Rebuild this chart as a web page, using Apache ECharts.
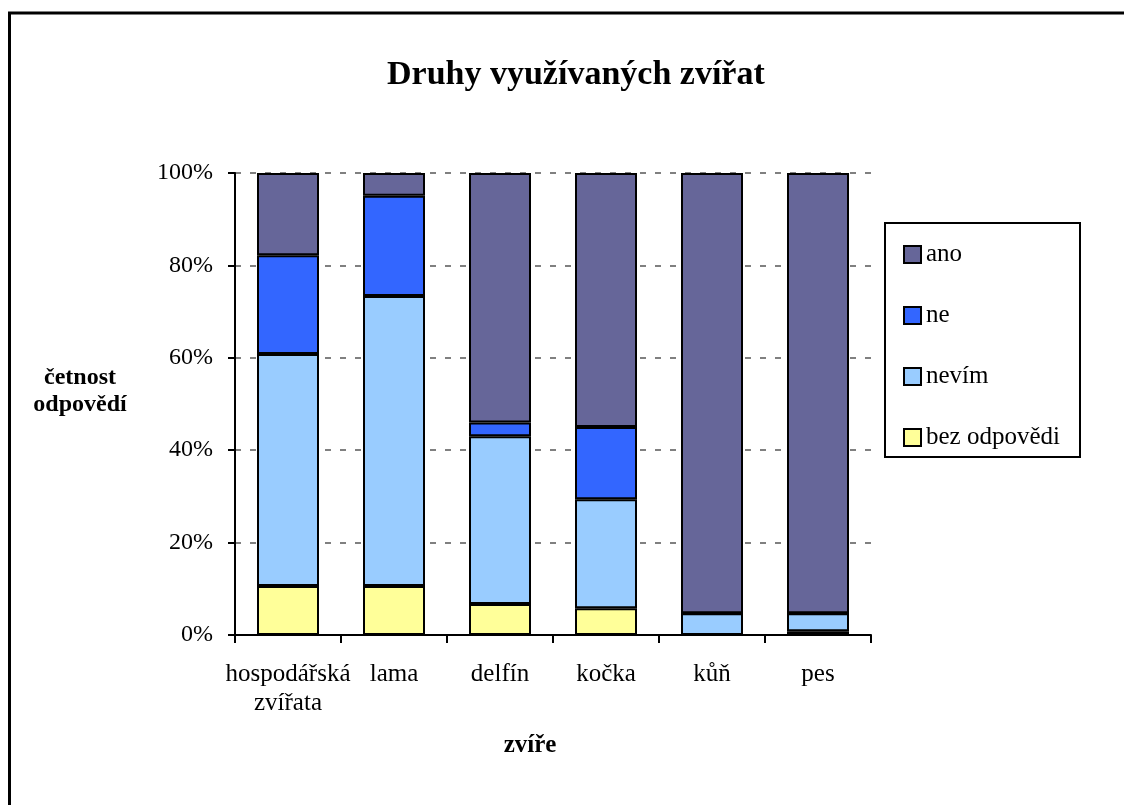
<!DOCTYPE html>
<html>
<head>
<meta charset="utf-8">
<script src="https://cdn.jsdelivr.net/npm/echarts@6/dist/echarts.min.js"></script>
<style>
html,body{margin:0;padding:0;background:#fff;}
#chart{width:1124px;height:805px;}
</style>
</head>
<body>
<div id="chart"></div>
<script>
const categories = ['hospodářská zvířata', 'lama', 'delfín', 'kočka', 'kůň', 'pes'];
const bezOdpovedi = [10.6, 10.6, 6.7, 5.8, 0, 0.8];
const nevim = [50.2, 62.8, 36.3, 23.6, 4.7, 3.9];
const ne = [21.4, 21.7, 3.0, 15.6, 0, 0];
const ano = [17.8, 4.9, 54.0, 55.0, 95.3, 95.3];
const yTicks = [0, 20, 40, 60, 80, 100];

const FONT = "'Liberation Serif', 'Times New Roman', serif";
const chart = echarts.init(document.getElementById('chart'), null, {renderer: 'canvas'});

function mk(name, data, color) {
  return {
    name: name, type: 'bar', stack: 'total', data: data,
    barWidth: 62,
    itemStyle: {color: color, borderColor: '#000', borderWidth: 2},
    emphasis: {disabled: true}
  };
}

chart.setOption({
  animation: false,
  backgroundColor: '#fff',
  title: {
    text: 'Druhy využívaných zvířat',
    left: 382, top: 53,
    textStyle: {fontFamily: FONT, fontSize: 34, fontWeight: 'bold', color: '#000'}
  },
  legend: {
    orient: 'vertical', left: 903, top: 242, padding: 0,
    icon: 'rect',
    itemWidth: 17, itemHeight: 17, itemGap: 36,
    data: ['ano', 'ne', 'nevím', 'bez odpovědi'],
    textStyle: {fontFamily: FONT, fontSize: 25, lineHeight: 24, color: '#000'}
  },
  grid: {left: 235, right: 253, top: 173, bottom: 170, containLabel: false},
  xAxis: {
    type: 'category', data: categories,
    axisLine: {lineStyle: {color: '#000', width: 2}},
    axisTick: {show: true, length: 8, lineStyle: {color: '#000', width: 2}},
    axisLabel: {
      fontFamily: FONT, fontSize: 25, lineHeight: 29, color: '#000', margin: 25,
      interval: 0,
      formatter: v => v.replace(' ', '\n')
    }
  },
  yAxis: {
    type: 'value', min: 0, max: 100, interval: 20,
    axisLine: {show: true, lineStyle: {color: '#000', width: 2}},
    axisTick: {show: true, length: 7, lineStyle: {color: '#000', width: 2}},
    axisLabel: {
      fontFamily: FONT, fontSize: 24, color: '#000', margin: 22,
      formatter: v => yTicks.includes(v) ? v + '%' : ''
    },
    splitLine: {show: true, lineStyle: {color: '#808080', width: 2, type: [6, 9]}}
  },
  series: [
    mk('bez odpovědi', bezOdpovedi, '#FFFF99'),
    mk('nevím', nevim, '#99CCFF'),
    mk('ne', ne, '#3366FF'),
    mk('ano', ano, '#666699')
  ],
  graphic: [
    {type: 'rect', shape: {x: 9.5, y: 13, width: 1300, height: 1000},
     style: {fill: 'none', stroke: '#000', lineWidth: 3}, silent: true, z: 100},
    {type: 'rect', shape: {x: 885, y: 223, width: 195, height: 234},
     style: {fill: 'none', stroke: '#000', lineWidth: 2}, silent: true, z: 100},
    {type: 'text', x: 80, y: 391,
     style: {text: 'četnost\nodpovědí', font: "bold 24px " + FONT, fill: '#000',
             align: 'center', verticalAlign: 'middle', lineHeight: 27}, z: 100},
    {type: 'text', x: 530, y: 746,
     style: {text: 'zvíře', font: "bold 25px " + FONT, fill: '#000',
             align: 'center', verticalAlign: 'middle'}, z: 100}
  ]
});
</script>
</body>
</html>
